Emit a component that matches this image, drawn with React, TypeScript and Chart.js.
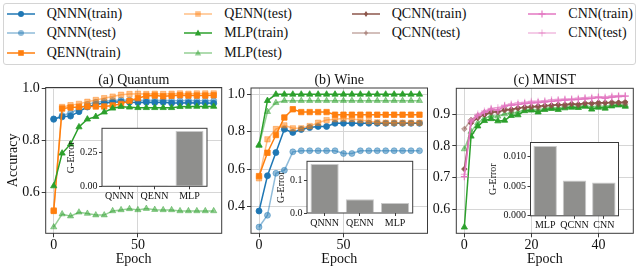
import React, { useEffect, useRef } from 'react';
import { Chart, registerables } from 'chart.js';
Chart.register(...registerables);

const FONT = "'Liberation Serif', 'Times New Roman', serif";

// ---------- data ----------
const epochsAB = [0, 5, 10, 15, 20, 25, 30, 35, 40, 45, 50, 55, 60, 65, 70, 75, 80, 85, 90, 95];
const epochsC = [0, 2, 4, 6, 8, 10, 12, 14, 16, 18, 20, 22, 24, 26, 28, 30, 32, 34, 36, 38, 40, 42, 44, 46, 48];

// (a) Quantum
const qA_qnnnTrain = [0.882, 0.89, 0.893, 0.91, 0.928, 0.938, 0.943, 0.946, 0.948, 0.946, 0.945, 0.946, 0.945, 0.946, 0.943, 0.943, 0.944, 0.943, 0.943, 0.942];
const qA_qnnnTest = [0.88, 0.895, 0.905, 0.922, 0.938, 0.946, 0.95, 0.953, 0.955, 0.954, 0.953, 0.954, 0.953, 0.954, 0.952, 0.952, 0.953, 0.952, 0.952, 0.952];
const qA_qennTrain = [0.528, 0.922, 0.926, 0.928, 0.93, 0.93, 0.93, 0.934, 0.94, 0.952, 0.962, 0.971, 0.972, 0.969, 0.971, 0.973, 0.972, 0.972, 0.972, 0.973];
const qA_qennTest = [0.53, 0.928, 0.935, 0.94, 0.948, 0.955, 0.962, 0.968, 0.975, 0.978, 0.979, 0.978, 0.979, 0.978, 0.979, 0.98, 0.979, 0.98, 0.98, 0.98];
const qA_mlpTrain = [0.624, 0.75, 0.785, 0.851, 0.881, 0.891, 0.908, 0.923, 0.929, 0.927, 0.925, 0.925, 0.925, 0.925, 0.925, 0.929, 0.93, 0.93, 0.93, 0.93];
const qA_mlpTest = [0.466, 0.516, 0.508, 0.523, 0.518, 0.512, 0.512, 0.528, 0.532, 0.536, 0.532, 0.537, 0.533, 0.532, 0.532, 0.528, 0.528, 0.528, 0.528, 0.528];

// (b) Wine
const wB_qnnnTrain = [0.375, 0.564, 0.688, 0.813, 0.796, 0.812, 0.822, 0.828, 0.828, 0.845, 0.845, 0.845, 0.845, 0.845, 0.845, 0.845, 0.845, 0.845, 0.845, 0.845];
const wB_qnnnTest = [0.289, 0.352, 0.577, 0.593, 0.692, 0.698, 0.698, 0.698, 0.698, 0.698, 0.683, 0.683, 0.698, 0.698, 0.698, 0.698, 0.698, 0.698, 0.698, 0.698];
const wB_qennTrain = [0.562, 0.687, 0.782, 0.876, 0.92, 0.905, 0.905, 0.905, 0.905, 0.891, 0.891, 0.891, 0.891, 0.891, 0.891, 0.891, 0.891, 0.891, 0.891, 0.891];
const wB_qennTest = [0.55, 0.759, 0.814, 0.834, 0.818, 0.818, 0.83, 0.848, 0.862, 0.867, 0.87, 0.868, 0.862, 0.856, 0.85, 0.848, 0.848, 0.848, 0.848, 0.848];
const wB_mlpTrain = [0.728, 0.966, 1.0, 1.0, 1.0, 1.0, 1.0, 1.0, 1.0, 1.0, 1.0, 1.0, 1.0, 1.0, 1.0, 1.0, 1.0, 1.0, 1.0, 1.0];
const wB_mlpTest = [0.725, 0.907, 0.955, 0.966, 0.966, 0.966, 0.966, 0.966, 0.966, 0.966, 0.966, 0.966, 0.966, 0.966, 0.966, 0.966, 0.966, 0.966, 0.966, 0.966];

// (c) MNIST
const mC_mlpTrain = [0.544, 0.83, 0.862, 0.879, 0.885, 0.878, 0.88, 0.895, 0.897, 0.91, 0.912, 0.906, 0.914, 0.917, 0.914, 0.919, 0.921, 0.92, 0.924, 0.915, 0.921, 0.918, 0.925, 0.928, 0.924];
const mC_mlpTest = [0.79, 0.845, 0.872, 0.887, 0.895, 0.893, 0.9, 0.905, 0.906, 0.914, 0.916, 0.912, 0.918, 0.921, 0.919, 0.923, 0.925, 0.923, 0.927, 0.922, 0.926, 0.924, 0.929, 0.931, 0.928];
const mC_qcnnTrain = [0.727, 0.872, 0.888, 0.898, 0.905, 0.908, 0.912, 0.915, 0.918, 0.921, 0.922, 0.925, 0.926, 0.928, 0.929, 0.93, 0.932, 0.931, 0.934, 0.933, 0.936, 0.935, 0.937, 0.936, 0.938];
const mC_qcnnTest = [0.853, 0.882, 0.895, 0.905, 0.912, 0.905, 0.918, 0.91, 0.92, 0.922, 0.925, 0.92, 0.927, 0.926, 0.93, 0.925, 0.932, 0.928, 0.933, 0.935, 0.93, 0.937, 0.933, 0.935, 0.932];
const mC_cnnTrain = [0.703, 0.875, 0.895, 0.905, 0.915, 0.912, 0.925, 0.928, 0.93, 0.933, 0.935, 0.936, 0.938, 0.94, 0.942, 0.944, 0.945, 0.946, 0.948, 0.949, 0.952, 0.95, 0.953, 0.955, 0.956];
const mC_cnnTest = [0.71, 0.88, 0.9, 0.91, 0.918, 0.92, 0.928, 0.932, 0.935, 0.937, 0.94, 0.94, 0.942, 0.945, 0.946, 0.947, 0.948, 0.95, 0.952, 0.953, 0.955, 0.954, 0.957, 0.958, 0.958];

// insets: generalization error
const gLabelsAB = ['QNNN', 'QENN', 'MLP'];
const gErrA = [0.0015, 0.002, 0.407];
const gErrB = [0.149, 0.042, 0.0305];
const gLabelsC = ['MLP', 'QCNN', 'CNN'];
const gErrC = [0.0117, 0.00593, 0.00559];

// tick labels
const xTicksAB = [0, 50];
const xTicksC = [0, 20, 40];
const yTicksA = [0.6, 0.8, 1.0];
const yTicksB = [0.4, 0.6, 0.8, 1.0];
const yTicksC = [0.6, 0.7, 0.8, 0.9];
const gTicksA = [0, 0.25];
const gTicksB = [0, 0.1];
const gTicksC = [0, 0.005, 0.01];

// ---------- styles ----------
const C_BLUE = '#1f77b4', C_BLUE_L = 'rgba(31,119,180,0.5)';
const C_ORANGE = '#ff7f0e', C_ORANGE_L = 'rgba(255,127,14,0.5)';
const C_GREEN = '#2ca02c', C_GREEN_L = 'rgba(44,160,44,0.5)';
const C_BROWN = '#8c564b', C_BROWN_L = 'rgba(140,86,75,0.5)';
const C_PINK = '#e377c2', C_PINK_L = 'rgba(227,119,194,0.5)';

type Marker = 'circle' | 'rect' | 'triangle' | 'rectRot' | 'cross';
const RADIUS: Record<Marker, number> = { circle: 3, rect: 3.8, triangle: 3.6, rectRot: 2.8, cross: 3.5 };

interface Series { label: string; color: string; marker: Marker; xs: number[]; ys: number[]; }

const seriesA: Series[] = [
  { label: 'QNNN(train)', color: C_BLUE, marker: 'circle', xs: epochsAB, ys: qA_qnnnTrain },
  { label: 'QNNN(test)', color: C_BLUE_L, marker: 'circle', xs: epochsAB, ys: qA_qnnnTest },
  { label: 'QENN(train)', color: C_ORANGE, marker: 'rect', xs: epochsAB, ys: qA_qennTrain },
  { label: 'QENN(test)', color: C_ORANGE_L, marker: 'rect', xs: epochsAB, ys: qA_qennTest },
  { label: 'MLP(train)', color: C_GREEN, marker: 'triangle', xs: epochsAB, ys: qA_mlpTrain },
  { label: 'MLP(test)', color: C_GREEN_L, marker: 'triangle', xs: epochsAB, ys: qA_mlpTest },
];
const seriesB: Series[] = [
  { label: 'QNNN(train)', color: C_BLUE, marker: 'circle', xs: epochsAB, ys: wB_qnnnTrain },
  { label: 'QNNN(test)', color: C_BLUE_L, marker: 'circle', xs: epochsAB, ys: wB_qnnnTest },
  { label: 'QENN(train)', color: C_ORANGE, marker: 'rect', xs: epochsAB, ys: wB_qennTrain },
  { label: 'QENN(test)', color: C_ORANGE_L, marker: 'rect', xs: epochsAB, ys: wB_qennTest },
  { label: 'MLP(train)', color: C_GREEN, marker: 'triangle', xs: epochsAB, ys: wB_mlpTrain },
  { label: 'MLP(test)', color: C_GREEN_L, marker: 'triangle', xs: epochsAB, ys: wB_mlpTest },
];
const seriesC: Series[] = [
  { label: 'MLP(train)', color: C_GREEN, marker: 'triangle', xs: epochsC, ys: mC_mlpTrain },
  { label: 'MLP(test)', color: C_GREEN_L, marker: 'triangle', xs: epochsC, ys: mC_mlpTest },
  { label: 'QCNN(train)', color: C_BROWN, marker: 'rectRot', xs: epochsC, ys: mC_qcnnTrain },
  { label: 'QCNN(test)', color: C_BROWN_L, marker: 'rectRot', xs: epochsC, ys: mC_qcnnTest },
  { label: 'CNN(train)', color: C_PINK, marker: 'cross', xs: epochsC, ys: mC_cnnTrain },
  { label: 'CNN(test)', color: C_PINK_L, marker: 'cross', xs: epochsC, ys: mC_cnnTest },
];

const FRAME = '#3a3a3a';
const GRID = '#d6d6d6';
const TXT = '#111';

function framePlugin(title?: string, fillWhite?: boolean) {
  return {
    id: 'frame',
    beforeDraw(chart: any) {
      if (!fillWhite) return;
      const { ctx, chartArea: a } = chart;
      ctx.save();
      ctx.fillStyle = '#ffffff';
      ctx.fillRect(a.left, a.top, a.right - a.left, a.bottom - a.top);
      ctx.restore();
    },
    afterDraw(chart: any) {
      const { ctx, chartArea: a } = chart;
      ctx.save();
      ctx.strokeStyle = FRAME;
      ctx.lineWidth = 1;
      ctx.strokeRect(a.left, a.top, a.right - a.left, a.bottom - a.top);
      if (title) {
        ctx.fillStyle = TXT;
        ctx.font = `14px ${FONT}`;
        ctx.textAlign = 'center';
        ctx.textBaseline = 'alphabetic';
        ctx.fillText(title, (a.left + a.right) / 2, a.top - 4);
      }
      ctx.restore();
    },
  };
}

interface MainProps {
  left: number; top: number; width: number; height: number;
  yAxisWidth: number; xAxisHeight: number; padRight: number; padTop: number;
  xMin: number; xMax: number; xTicks: number[];
  yMin: number; yMax: number; yTicks: number[];
  title: string; yTitle?: string; series: Series[];
}

function MainChart(p: MainProps) {
  const ref = useRef<HTMLCanvasElement>(null);
  useEffect(() => {
    if (!ref.current) return;
    const n = p.series.length;
    const chart = new Chart(ref.current, {
      type: 'line',
      data: {
        datasets: p.series.map((s, i) => ({
          label: s.label,
          data: s.ys.map((y, j) => ({ x: s.xs[j], y })),
          borderColor: s.color,
          backgroundColor: s.color,
          pointBackgroundColor: s.color,
          pointBorderColor: s.color,
          pointStyle: s.marker,
          pointRadius: RADIUS[s.marker],
          pointBorderWidth: s.marker === 'cross' ? 1.2 : 0.8,
          borderWidth: 1.5,
          tension: 0,
          fill: false,
          order: n - i,
        })),
      } as any,
      options: {
        animation: false,
        responsive: false,
        maintainAspectRatio: false,
        events: [],
        layout: { padding: { left: 0, right: p.padRight, top: p.padTop, bottom: 0 } },
        plugins: { legend: { display: false }, tooltip: { enabled: false }, title: { display: false } },
        scales: {
          x: {
            type: 'linear',
            min: p.xMin,
            max: p.xMax,
            afterBuildTicks: (sc: any) => { sc.ticks = p.xTicks.map((v) => ({ value: v })); },
            afterFit: (sc: any) => { sc.height = p.xAxisHeight; },
            grid: { color: GRID, lineWidth: 1, tickColor: FRAME, tickLength: 4 },
            border: { display: false },
            ticks: {
              font: { size: 14, family: FONT }, color: TXT, padding: 0,
              maxRotation: 0, autoSkip: false, callback: (v: any) => String(v),
            },
            title: {
              display: true, text: 'Epoch', color: TXT,
              font: { size: 14, family: FONT }, padding: { top: 0, bottom: 7 },
            },
          },
          y: {
            type: 'linear',
            min: p.yMin,
            max: p.yMax,
            afterBuildTicks: (sc: any) => { sc.ticks = p.yTicks.map((v) => ({ value: v })); },
            afterFit: (sc: any) => { sc.width = p.yAxisWidth; },
            grid: { color: GRID, lineWidth: 1, tickColor: FRAME, tickLength: 4 },
            border: { display: false },
            ticks: {
              font: { size: 14, family: FONT }, color: TXT, padding: 2,
              autoSkip: false, callback: (v: any) => Number(v).toFixed(1),
            },
            title: {
              display: !!p.yTitle, text: p.yTitle || '', color: TXT,
              font: { size: 14, family: FONT }, padding: { top: 4.5, bottom: 0 },
            },
          },
        },
      } as any,
      plugins: [framePlugin(p.title, false)],
    });
    return () => chart.destroy();
  }, []);
  return (
    <canvas ref={ref} width={p.width} height={p.height}
      style={{ position: 'absolute', left: p.left, top: p.top, width: p.width, height: p.height }} />
  );
}

interface InsetProps {
  left: number; top: number; width: number; height: number;
  yAxisWidth: number; xAxisHeight: number; padRight: number; padTop: number; titlePad: number;
  labels: string[]; values: number[]; yMax: number; yTicks: number[]; decimals: number;
}

function InsetChart(p: InsetProps) {
  const ref = useRef<HTMLCanvasElement>(null);
  useEffect(() => {
    if (!ref.current) return;
    const chart = new Chart(ref.current, {
      type: 'bar',
      data: {
        labels: p.labels,
        datasets: [{
          data: p.values,
          backgroundColor: '#8f8f8d',
          borderColor: '#c9c9c9',
          borderWidth: 1,
          barPercentage: 0.8,
          categoryPercentage: 1.0,
        }],
      },
      options: {
        animation: false,
        responsive: false,
        maintainAspectRatio: false,
        events: [],
        layout: { padding: { left: 0, right: p.padRight, top: p.padTop, bottom: 0 } },
        plugins: { legend: { display: false }, tooltip: { enabled: false } },
        scales: {
          x: {
            type: 'category',
            afterFit: (sc: any) => { sc.height = p.xAxisHeight; },
            grid: { drawOnChartArea: false, offset: false, color: FRAME, tickColor: FRAME, tickLength: 3 },
            border: { display: false },
            ticks: { font: { size: 10, family: FONT }, color: TXT, padding: 1, maxRotation: 0, autoSkip: false },
          },
          y: {
            type: 'linear',
            min: 0,
            max: p.yMax,
            afterBuildTicks: (sc: any) => { sc.ticks = p.yTicks.map((v) => ({ value: v })); },
            afterFit: (sc: any) => { sc.width = p.yAxisWidth; },
            grid: { drawOnChartArea: false, color: FRAME, tickColor: FRAME, tickLength: 3 },
            border: { display: false },
            ticks: {
              font: { size: 10, family: FONT }, color: TXT, padding: 1.5,
              autoSkip: false, callback: (v: any) => Number(v).toFixed(p.decimals),
            },
            title: {
              display: true, text: 'G-Error', color: TXT,
              font: { size: 10, family: FONT }, padding: { top: p.titlePad, bottom: 0 },
            },
          },
        },
      } as any,
      plugins: [framePlugin(undefined, true)],
    });
    return () => chart.destroy();
  }, []);
  return (
    <canvas ref={ref} width={p.width} height={p.height}
      style={{ position: 'absolute', left: p.left, top: p.top, width: p.width, height: p.height }} />
  );
}

// ---------- legend ----------
interface LegendItem { label: string; color: string; marker: Marker; }
const legendColumns: LegendItem[][] = [
  [
    { label: 'QNNN(train)', color: C_BLUE, marker: 'circle' },
    { label: 'QNNN(test)', color: C_BLUE_L, marker: 'circle' },
    { label: 'QENN(train)', color: C_ORANGE, marker: 'rect' },
  ],
  [
    { label: 'QENN(test)', color: C_ORANGE_L, marker: 'rect' },
    { label: 'MLP(train)', color: C_GREEN, marker: 'triangle' },
    { label: 'MLP(test)', color: C_GREEN_L, marker: 'triangle' },
  ],
  [
    { label: 'QCNN(train)', color: C_BROWN, marker: 'rectRot' },
    { label: 'QCNN(test)', color: C_BROWN_L, marker: 'rectRot' },
  ],
  [
    { label: 'CNN(train)', color: C_PINK, marker: 'cross' },
    { label: 'CNN(test)', color: C_PINK_L, marker: 'cross' },
  ],
];
const legendColX = [6.7, 184.3, 351.7, 528.3];
const legendRowY = [14, 33.3, 52.6];

function MarkerSvg({ color, marker }: { color: string; marker: Marker }) {
  const cx = 14, cy = 5;
  let shape: any = null;
  if (marker === 'circle') shape = <circle cx={cx} cy={cy} r={3} fill={color} />;
  else if (marker === 'rect') shape = <rect x={cx - 2.8} y={cy - 2.8} width={5.6} height={5.6} fill={color} />;
  else if (marker === 'triangle') shape = <polygon points={`${cx},${cy - 3.4} ${cx - 3.2},${cy + 2.4} ${cx + 3.2},${cy + 2.4}`} fill={color} />;
  else if (marker === 'rectRot') shape = <polygon points={`${cx},${cy - 3} ${cx - 2},${cy} ${cx},${cy + 3} ${cx + 2},${cy}`} fill={color} />;
  else shape = <g stroke={color} strokeWidth={1.2}><line x1={cx} y1={cy - 3.5} x2={cx} y2={cy + 3.5} /><line x1={cx - 3.5} y1={cy} x2={cx + 3.5} y2={cy} /></g>;
  return (
    <svg width={28} height={10} style={{ position: 'absolute', left: 0, top: -5, overflow: 'visible' }}>
      <line x1={0} y1={cy} x2={28} y2={cy} stroke={color} strokeWidth={1.5} />
      {shape}
    </svg>
  );
}

function Legend() {
  return (
    <>
      <div style={{
        position: 'absolute', left: 3, top: 3, width: 633, height: 62, boxSizing: 'border-box',
        border: '1px solid #d4d4d4', borderRadius: 3, background: '#fff',
      }} />
      {legendColumns.map((col, ci) => col.map((it, ri) => (
        <div key={`${ci}-${ri}`} style={{ position: 'absolute', left: legendColX[ci], top: legendRowY[ri], height: 0 }}>
          <MarkerSvg color={it.color} marker={it.marker} />
          <span style={{
            position: 'absolute', left: 40, top: -9, lineHeight: '18px', whiteSpace: 'nowrap',
            fontFamily: FONT, fontSize: 14, color: TXT,
          }}>{it.label}</span>
        </div>
      )))}
    </>
  );
}

export default function App() {
  return (
    <div style={{ position: 'absolute', left: 0, top: 0, width: 640, height: 275, background: '#fff', overflow: 'hidden' }}>
      <Legend />
      <MainChart left={0} top={60} width={235} height={215} yAxisWidth={45.7} xAxisHeight={41.7}
        padRight={13.3} padTop={27.5} xMin={-4.75} xMax={99.75} xTicks={xTicksAB}
        yMin={0.442} yMax={1.003} yTicks={yTicksA} title="(a) Quantum" yTitle="Accuracy" series={seriesA} />
      <MainChart left={205} top={60} width={235} height={215} yAxisWidth={46} xAxisHeight={41.7}
        padRight={12.5} padTop={28} xMin={-4.75} xMax={99.75} xTicks={xTicksAB}
        yMin={0.2555} yMax={1.034} yTicks={yTicksB} title="(b) Wine" series={seriesB} />
      <MainChart left={410} top={60} width={230} height={215} yAxisWidth={46.3} xAxisHeight={41.7}
        padRight={6.7} padTop={28.3} xMin={-2.4} xMax={50.4} xTicks={xTicksC}
        yMin={0.525} yMax={0.981} yTicks={yTicksC} title="(c) MNIST" series={seriesC} />
      <InsetChart left={60} top={120} width={152} height={86} yAxisWidth={42} xAxisHeight={19.7}
        padRight={5} padTop={8.3} titlePad={5.5} labels={gLabelsAB} values={gErrA}
        yMax={0.427} yTicks={gTicksA} decimals={2} />
      <InsetChart left={270} top={153} width={148} height={79} yAxisWidth={37} xAxisHeight={19}
        padRight={5.3} padTop={8.3} titlePad={5.7} labels={gLabelsAB} values={gErrB}
        yMax={0.157} yTicks={gTicksB} decimals={1} />
      <InsetChart left={482} top={134} width={142} height={102} yAxisWidth={48.5} xAxisHeight={20.2}
        padRight={5.5} padTop={8.5} titlePad={5.3} labels={gLabelsC} values={gErrC}
        yMax={0.0123} yTicks={gTicksC} decimals={3} />
    </div>
  );
}
